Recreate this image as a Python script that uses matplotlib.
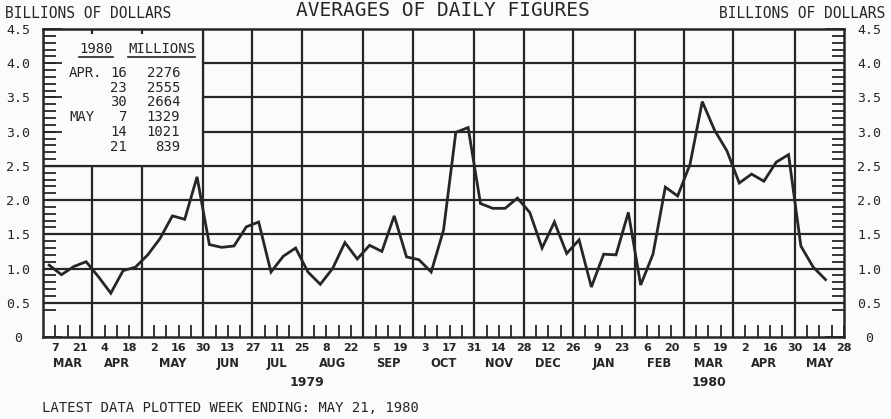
import matplotlib
matplotlib.use("Agg")
import matplotlib.pyplot as plt
from matplotlib.patches import Rectangle
from matplotlib.lines import Line2D
import numpy as np
import pandas as pd

# weekly averages of daily figures, billions of dollars
# first week ends Wed Mar 7 1979, last plotted week ends May 21 1980
values = [1.05, 0.91, 1.03, 1.10, 0.88, 0.64, 0.97, 1.02, 1.20, 1.44,
          1.77, 1.72, 2.34, 1.35, 1.31, 1.33, 1.61, 1.68, 0.95, 1.18,
          1.30, 0.95, 0.77, 1.00, 1.38, 1.14, 1.34, 1.25, 1.77, 1.17,
          1.13, 0.95, 1.56, 2.99, 3.06, 1.95, 1.88, 1.88, 2.03, 1.82,
          1.30, 1.68, 1.22, 1.42, 0.73, 1.21, 1.20, 1.82, 0.76, 1.21,
          2.19, 2.06, 2.52, 3.44, 3.02, 2.72, 2.25, 2.38, 2.276, 2.555,
          2.664, 1.329, 1.021, 0.839]

weeks = pd.date_range("1979-03-07", "1980-05-28", freq="7D")

year_labels = ["1979", "1980"]
year_pos = [20.4, 53]

table_month = ["APR.", "", "", "MAY", "", ""]
table_day = [16, 23, 30, 7, 14, 21]
table_millions = [2276, 2555, 2664, 1329, 1021, 839]

plt.rcParams["font.family"] = "DejaVu Sans Mono"
sans_bold = dict(family="DejaVu Sans", weight="bold")

ink = "#262626"
bg = "#fbfbf9"
W, H = 891, 419

fig = plt.figure(figsize=(W / 100, H / 100), dpi=100, facecolor=bg)
ax = fig.add_axes([43 / W, 1 - 337 / H, (844 - 43) / W, (337 - 29) / H])
ax.set_facecolor(bg)

idx = np.arange(len(weeks))
month_end = [i for i in idx if (weeks[i] + pd.Timedelta(days=7)).month != weeks[i].month]

ax.set_xlim(-1, idx[-1])
ax.set_ylim(0, 4.5)

# grid
for g in month_end[:-1]:
    ax.axvline(g, color=ink, lw=1.6, zorder=1)
for h in np.arange(0.5, 4.01, 0.5):
    ax.axhline(h, color=ink, lw=1.6, zorder=1)

# blank box for the inset table
box = Rectangle((-1, 2.5), month_end[2] + 1, 2.0, facecolor=bg,
                edgecolor=ink, lw=1.6, zorder=1.5)
ax.add_patch(box)
ax.vlines(month_end[:2], 4.43, 4.5, color=ink, lw=1.6, zorder=1.6)

ax.plot(idx[:len(values)] - 0.5, values, color=ink, lw=2, zorder=3,
        solid_joinstyle="miter")

for s in ax.spines.values():
    s.set_color(ink)
    s.set_linewidth(1.8)

# x ticks: every week, day number every other week
ax.set_xticks(idx)
ax.set_xticklabels([str(d.day) if i % 2 == 0 else "" for i, d in enumerate(weeks)],
                   **sans_bold)
ax.tick_params(axis="x", direction="in", length=9, width=1.3, color=ink,
               pad=4.5, labelsize=8, labelcolor=ink)

prev = -1
for e in month_end:
    ax.text((prev + e) / 2, -0.086, weeks[e].strftime("%b").upper(),
            transform=ax.get_xaxis_transform(), ha="center", va="center",
            fontsize=8.3, color=ink, **sans_bold)
    prev = e
for lab, p in zip(year_labels, year_pos):
    ax.text(p, -0.149, lab, transform=ax.get_xaxis_transform(),
            ha="center", va="center", fontsize=9, color=ink, **sans_bold)

# y ticks on both sides
yt = np.arange(0, 4.51, 0.5)
ax.set_yticks(yt)
ax.set_yticklabels(["0" if v == 0 else f"{v:.1f}" for v in yt])
ax.set_yticks(np.arange(0.4, 4.45, 0.1), minor=True)
ax.yaxis.remove_overlapping_locs = False
ax.tick_params(axis="y", which="major", direction="in", length=14, width=1.3,
               color=ink, left=True, right=True, labelleft=True,
               labelright=True, pad=18, labelsize=9.5, labelcolor=ink)
ax.tick_params(axis="y", which="minor", direction="in", length=9, width=1.3,
               color=ink, left=True, right=True)
for t in ax.yaxis.get_major_ticks():
    t.label1.set_ha("center")
    t.label2.set_ha("center")

# titles
fig.text(5 / W, 1 - 13 / H, "BILLIONS OF DOLLARS", ha="left", va="center",
         fontsize=10.5, color=ink)
fig.text(885 / W, 1 - 13 / H, "BILLIONS OF DOLLARS", ha="right", va="center",
         fontsize=10.5, color=ink)
fig.text(443 / W, 1 - 11 / H, "AVERAGES OF DAILY FIGURES", ha="center",
         va="center", fontsize=14, color=ink)
fig.text(42 / W, 1 - 408 / H, "LATEST DATA PLOTTED WEEK ENDING: MAY 21, 1980",
         ha="left", va="center", fontsize=10, color=ink)

# inset table
h1 = fig.text(79 / W, 1 - 49 / H, "1980", ha="left", va="center",
              fontsize=10, color=ink)
h2 = fig.text(128 / W, 1 - 49 / H, "MILLIONS", ha="left", va="center",
              fontsize=10, color=ink)
for k, (m, d, v) in enumerate(zip(table_month, table_day, table_millions)):
    y = 1 - (72.7 + 14.8 * k) / H
    if m:
        fig.text(69 / W, y, m, ha="left", va="center", fontsize=10, color=ink)
    fig.text(127 / W, y, str(d), ha="right", va="center", fontsize=10, color=ink)
    fig.text(180 / W, y, str(v), ha="right", va="center", fontsize=10, color=ink)

fig.canvas.draw()
r = fig.canvas.get_renderer()
inv = fig.transFigure.inverted()
for t in (h1, h2):
    bb = t.get_window_extent(r)
    (x0, y0), (x1, _) = inv.transform([(bb.x0, bb.y0 - 1.5), (bb.x1, bb.y0)])
    fig.add_artist(Line2D([x0, x1], [y0, y0], transform=fig.transFigure,
                          color=ink, lw=1.2))

fig.savefig("out.png", dpi=100, facecolor=bg)
